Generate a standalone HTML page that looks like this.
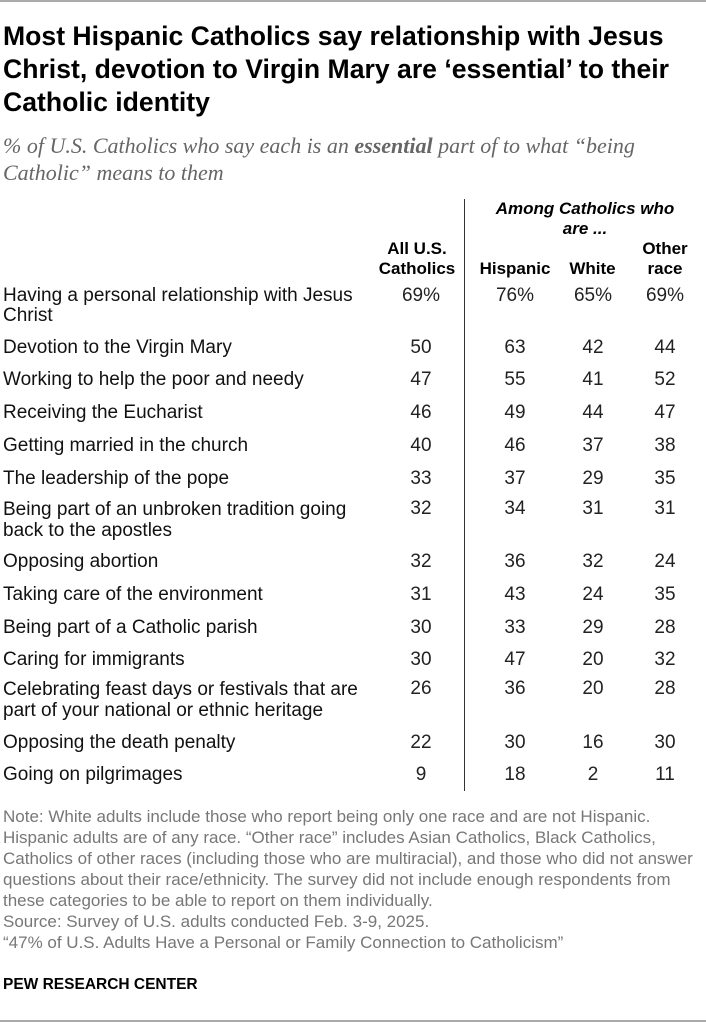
<!DOCTYPE html>
<html><head><meta charset="utf-8"><style>
body{margin:0;width:706px;height:1023px;background:#fff;position:relative;overflow:hidden;font-family:"Liberation Sans Narrow","Liberation Sans",sans-serif;color:#000}
.a{position:absolute;white-space:nowrap;line-height:20px}
.t{font-size:26.6px;font-weight:bold;left:3px;line-height:33px}
.s{font-family:"Liberation Serif",serif;font-style:italic;color:#666;font-size:22px;left:3px;line-height:27px}
.h{font-weight:bold;font-size:17px;text-align:center}
.l{left:3px;font-size:19px;color:#111}
.v{font-size:19px;text-align:center;width:60px;color:#222}
.n{left:3px;font-size:17px;color:#777;line-height:21px}
</style></head><body>
<div style="position:absolute;left:0;top:0;width:706px;height:2px;background:#aaa"></div>
<div style="position:absolute;left:0;top:1020px;width:706px;height:2px;background:#aaa"></div>
<div class="a t" style="top:20px">Most Hispanic Catholics say relationship with Jesus<br>Christ, devotion to Virgin Mary are ‘essential’ to their<br>Catholic identity</div>
<div class="a s" style="top:132px">% of U.S. Catholics who say each is an <b>essential</b> part of to what “being<br>Catholic” means to them</div>
<div style="position:absolute;left:464px;top:199px;width:1px;height:592px;background:#333"></div>
<div class="a h" style="left:470px;width:230px;top:199px;font-style:italic">Among Catholics who<br>are ...</div>
<div class="a h" style="left:362px;width:110px;top:239px">All U.S.<br>Catholics</div>
<div class="a h" style="left:470px;width:90px;top:259px">Hispanic</div>
<div class="a h" style="left:560px;width:65px;top:259px">White</div>
<div class="a h" style="left:630px;width:70px;top:239px">Other<br>race</div>
<div id="rows"></div>
<div class="a l" style="top:286px">Having a personal relationship with Jesus<br>Christ</div>
<div class="a l" style="top:338px">Devotion to the Virgin Mary</div>
<div class="a l" style="top:370px">Working to help the poor and needy</div>
<div class="a l" style="top:403px">Receiving the Eucharist</div>
<div class="a l" style="top:436px">Getting married in the church</div>
<div class="a l" style="top:469px">The leadership of the pope</div>
<div class="a l" style="top:499px;line-height:21px">Being part of an unbroken tradition going<br>back to the apostles</div>
<div class="a l" style="top:552px">Opposing abortion</div>
<div class="a l" style="top:585px">Taking care of the environment</div>
<div class="a l" style="top:618px">Being part of a Catholic parish</div>
<div class="a l" style="top:650px">Caring for immigrants</div>
<div class="a l" style="top:679px;line-height:21px">Celebrating feast days or festivals that are<br>part of your national or ethnic heritage</div>
<div class="a l" style="top:733px">Opposing the death penalty</div>
<div class="a l" style="top:765px">Going on pilgrimages</div>
<script>
var d=[[286,"69%","76%","65%","69%"],[338,50,63,42,44],[370,47,55,41,52],[403,46,49,44,47],[436,40,46,37,38],[469,33,37,29,35],[499,32,34,31,31],[552,32,36,32,24],[585,31,43,24,35],[618,30,33,29,28],[650,30,47,20,32],[679,26,36,20,28],[733,22,30,16,30],[765,9,18,2,11]];
var x=[421,515,593,665],h="";
d.forEach(function(r){for(var i=0;i<4;i++)h+='<div class="a v" style="top:'+r[0]+'px;left:'+(x[i]-30)+'px">'+r[i+1]+'</div>';});
document.getElementById("rows").outerHTML=h;
</script>
<div class="a n" style="top:806px">Note: White adults include those who report being only one race and are not Hispanic.<br>Hispanic adults are of any race. “Other race” includes Asian Catholics, Black Catholics,<br>Catholics of other races (including those who are multiracial), and those who did not answer<br>questions about their race/ethnicity. The survey did not include enough respondents from<br>these categories to be able to report on them individually.<br>Source: Survey of U.S. adults conducted Feb. 3-9, 2025.<br>“47% of U.S. Adults Have a Personal or Family Connection to Catholicism”</div>
<div class="a" style="left:3px;top:975px;font-size:15.5px;font-weight:bold">PEW RESEARCH CENTER</div>
</body></html>
